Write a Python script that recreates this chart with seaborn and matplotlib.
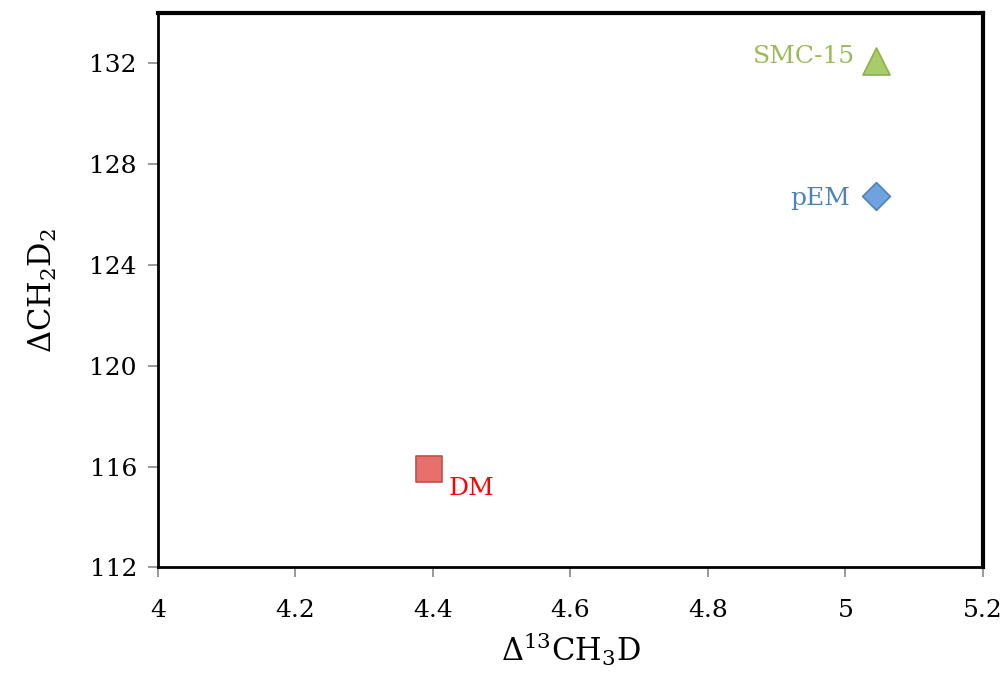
import matplotlib
matplotlib.use("Agg")
import matplotlib.pyplot as plt
import seaborn as sns
import pandas as pd

samples = ["DM", "pEM", "SMC-15"]
d13ch3d = [4.395, 5.045, 5.045]
dch2d2 = [115.9, 126.75, 132.1]
face_colors = ["#E8706C", "#6FA3E0", "#A8CC6A"]
edge_colors = ["#C0504D", "#4F81BD", "#8DB24B"]
label_colors = ["#FF0000", "#4F81BD", "#9BBB59"]
marker_shapes = ["s", "D", "^"]
xticks = [4, 4.2, 4.4, 4.6, 4.8, 5, 5.2]
yticks = [112, 116, 120, 124, 128, 132]

sns.set_theme(style="white")
plt.rcParams["font.family"] = ["DejaVu Serif"]
plt.rcParams["mathtext.fontset"] = "dejavuserif"

df = pd.DataFrame({"x": d13ch3d, "y": dch2d2, "sample": samples})

fig, ax = plt.subplots(figsize=(10.05, 6.73), dpi=100)
fig.subplots_adjust(left=0.157, right=0.978, top=0.981, bottom=0.157)

sizes = {"DM": 340, "pEM": 200, "SMC-15": 380}
for s, fc, ec, m in zip(samples, face_colors, edge_colors, marker_shapes):
    sub = df[df["sample"] == s]
    sns.scatterplot(data=sub, x="x", y="y", marker=m, s=sizes[s], color=fc,
                    edgecolor=ec, linewidth=1.2, ax=ax, legend=False, zorder=3)

offsets = {"DM": (14, -14, "left"), "pEM": (-19, -2, "right"), "SMC-15": (-15, 3, "right")}
for s, x, y, c in zip(samples, d13ch3d, dch2d2, label_colors):
    dx, dy, ha = offsets[s]
    ax.annotate(s, (x, y), xytext=(dx, dy), textcoords="offset points",
                ha=ha, va="center", color=c, fontsize=18)

ax.set_xlim(4, 5.2)
ax.set_ylim(112, 134)
ax.set_xticks(xticks)
ax.set_xticklabels([f"{t:g}" for t in xticks])
ax.set_yticks(yticks)
ax.tick_params(axis="both", direction="out", length=7, width=1.2, color="#888888",
               labelsize=18, labelcolor="black", pad=8, bottom=True, left=True)
ax.tick_params(axis="x", pad=16)
for sp in ax.spines.values():
    sp.set_color("black")
    sp.set_linewidth(2.0)
    sp.set_visible(True)
ax.spines["top"].set_linewidth(3)
ax.spines["right"].set_linewidth(3)

ax.set_xlabel(r"$\Delta^{13}$CH$_3$D", fontsize=22, labelpad=6, color="black")
ax.set_ylabel(r"$\Delta$CH$_2$D$_2$", fontsize=22, labelpad=22, color="black")

fig.savefig("out.png", dpi=100)
